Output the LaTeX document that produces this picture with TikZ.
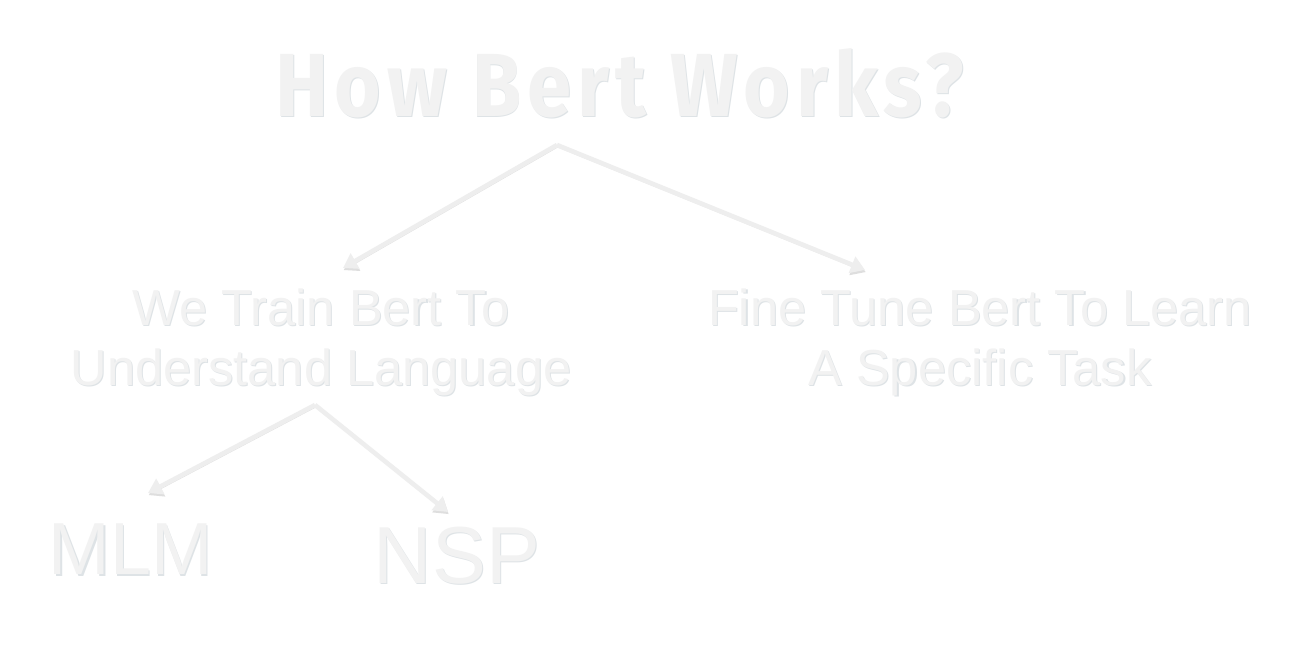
\documentclass[tikz,border=0pt]{standalone}
\usepackage{fontspec}
\setmainfont{Liberation Sans}
\newfontfamily\titlefont[LetterSpace=7.5]{Fira Sans}
\usepackage{xcolor}
\usepackage{tikz}
\usetikzlibrary{arrows.meta, positioning, calc}
\definecolor{txtcol}{RGB}{242, 242, 242}
\definecolor{shadecol}{RGB}{222, 227, 230}
\definecolor{arrowcol}{RGB}{238, 238, 238}
\definecolor{arrowshade}{RGB}{222, 222, 222}
\newcommand{\shd}[1]{\makebox[0pt][l]{\kern0.6pt\raisebox{-0.7pt}{\textcolor{shadecol}{#1}}}#1}

\begin{document}
\begin{tikzpicture}[
        label/.style={text=txtcol, inner sep=0pt, align=center},
        arrow/.style={-{Triangle[length=2.8mm, width=3.4mm]}, line width=2.6pt, draw=arrowcol,
            preaction={draw=arrowshade, transform canvas={xshift=0.4pt, yshift=-1.2pt}}}
    ]
    \fill[white] (0,0) rectangle (25.98,13.18);
    \useasboundingbox (0,0) rectangle (25.98,13.18);

    % Title
    \node[label, font=\titlefont\bfseries\fontsize{51}{51}\selectfont] (title) at (12.4,11.5) {\scalebox{0.89}[1]{\shd{How Bert Works?}}};

    % Two stages
    \node[label, font=\fontsize{28.8}{34}\selectfont] (train) at (6.42,6.32) {\shd{We Train Bert To}\\\shd{Understand Language}};
    \node[label, font=\fontsize{28.8}{34}\selectfont] (finetune) at (19.6,6.32) {\shd{Fine Tune Bert To Learn}\\\shd{A Specific Task}};

    % Pre-training tasks
    \node[label, font=\fontsize{42}{42}\selectfont] (mlm) at (2.62,2.18) {\shd{MLM}};
    \node[label, font=\fontsize{46}{46}\selectfont] (nsp) at (9.14,2.06) {\shd{NSP}};

    % Arrow ends
    \coordinate (fork) at (11.14,10.28);
    \coordinate (fork2) at (6.3,5.08);
    \coordinate (traintip) at (6.86,7.82);
    \coordinate (finetip) at (17.3,7.78);
    \coordinate (mlmtip) at (2.96,3.32);
    \coordinate (nsptip) at (8.96,2.94);

    % Arrows
    \draw[arrow] (fork) -- (traintip);
    \draw[arrow] (fork) -- (finetip);
    \draw[arrow] (fork2) -- (mlmtip);
    \draw[arrow] (fork2) -- (nsptip);

\end{tikzpicture}
\end{document}
